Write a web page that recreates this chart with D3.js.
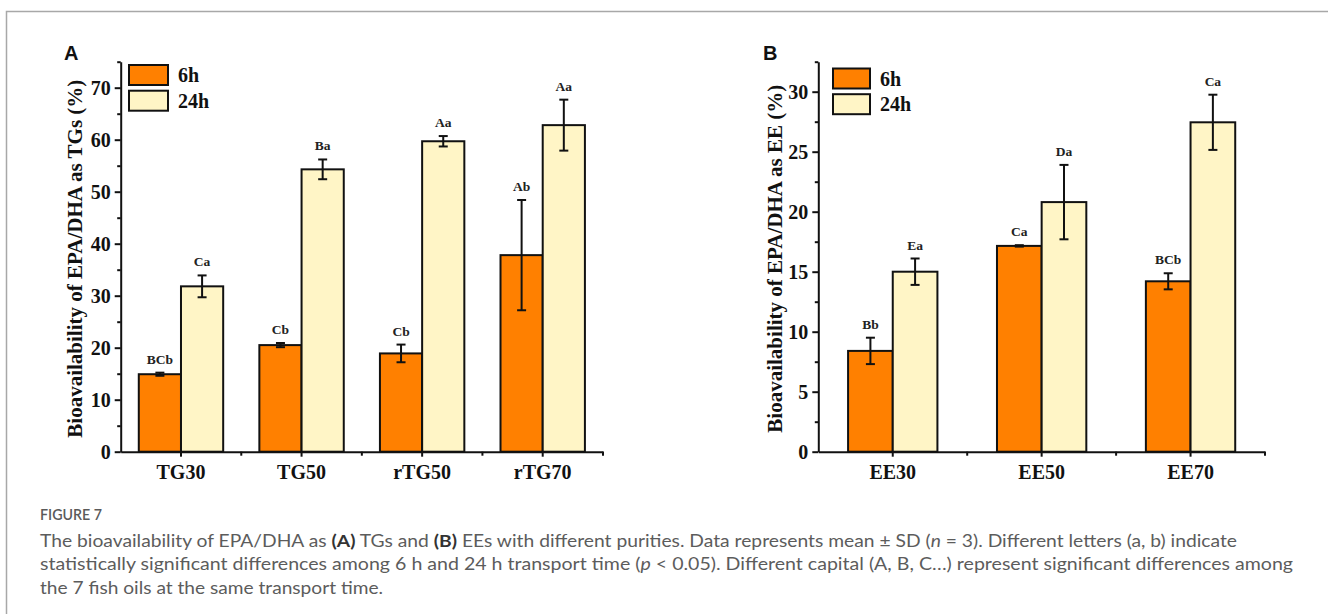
<!DOCTYPE html>
<html><head><meta charset="utf-8">
<script src="https://cdn.jsdelivr.net/npm/d3@7"></script>
<style>html,body{margin:0;padding:0;background:#fff;}svg{display:block;}</style>
</head><body>
<script>
// ---- data ----
const catsA = ["TG30", "TG50", "rTG50", "rTG70"];
const a6h = [14.9, 20.5, 18.9, 37.8];
const a6hErr = [0.3, 0.4, 1.7, 10.6];
const a24h = [31.8, 54.3, 59.7, 62.8];
const a24hErr = [2.1, 1.9, 1.0, 4.9];
const a6hLab = ["BCb", "Cb", "Cb", "Ab"];
const a24hLab = ["Ca", "Ba", "Aa", "Aa"];
const ticksA = [0, 10, 20, 30, 40, 50, 60, 70];

const catsB = ["EE30", "EE50", "EE70"];
const b6h = [8.4, 17.15, 14.2];
const b6hErr = [1.1, 0.06, 0.67];
const b24h = [15.0, 20.8, 27.45];
const b24hErr = [1.1, 3.1, 2.3];
const b6hLab = ["Bb", "Ca", "BCb"];
const b24hLab = ["Ea", "Da", "Ca"];
const ticksB = [0, 5, 10, 15, 20, 25, 30];

const seriesNames = ["6h", "24h"];
const colors = ["#FF8000", "#FFF5C6"];

// ---- drawing ----
const W = 1328, H = 614;
const svg = d3.select("body").append("svg").attr("width", W).attr("height", H);
svg.append("rect").attr("width", W).attr("height", H).attr("fill", "#fff");
svg.append("path").attr("d", "M6.5,614V11.5H1328").attr("fill", "none").attr("stroke", "#a8a8a8").attr("stroke-width", 1.5);

const serif = "'Liberation Serif','Times New Roman',serif";

function panel(cfg) {
  const g = svg.append("g");
  const x = d3.scaleBand().domain(cfg.cats).range([cfg.x0, cfg.x1]).paddingInner(0).paddingOuter(0);
  const y = d3.scaleLinear().domain([0, cfg.ymax]).range([cfg.y0, cfg.y1]);
  const bw = x.bandwidth() * cfg.frac;
  const series = [
    {vals: cfg.v6, err: cfg.e6, lab: cfg.l6, color: colors[0], off: -bw},
    {vals: cfg.v24, err: cfg.e24, lab: cfg.l24, color: colors[1], off: 0}
  ];
  series.forEach(s => {
    cfg.cats.forEach((c, i) => {
      const cx = x(c) + x.bandwidth() / 2;
      g.append("rect").attr("x", cx + s.off).attr("width", bw)
        .attr("y", y(s.vals[i])).attr("height", y(0) - y(s.vals[i]))
        .attr("fill", s.color).attr("stroke", "#111").attr("stroke-width", 2);
    });
  });
  series.forEach(s => {
    cfg.cats.forEach((c, i) => {
      const ex = x(c) + x.bandwidth() / 2 + s.off + bw / 2;
      const hi = y(s.vals[i] + s.err[i]), lo = y(s.vals[i] - s.err[i]);
      g.append("line").attr("x1", ex).attr("x2", ex).attr("y1", hi).attr("y2", lo).attr("stroke", "#111").attr("stroke-width", 2);
      [hi, lo].forEach(yy => g.append("line").attr("x1", ex - 4.5).attr("x2", ex + 4.5).attr("y1", yy).attr("y2", yy).attr("stroke", "#111").attr("stroke-width", 2));
      g.append("text").attr("x", ex).attr("y", hi - 9).attr("text-anchor", "middle")
        .attr("font-family", serif).attr("font-weight", "bold").attr("font-size", 13.5).attr("fill", "#222").text(s.lab[i]);
    });
  });
  // y axis
  const yAx = g.append("g").attr("transform", `translate(${cfg.x0},0)`)
    .call(d3.axisLeft(y).tickValues(cfg.ticks).tickSize(6).tickPadding(4).tickSizeOuter(0));
  yAx.select(".domain").attr("stroke", "#111").attr("stroke-width", 2);
  yAx.selectAll(".tick line").attr("stroke", "#111").attr("stroke-width", 2);
  yAx.selectAll(".tick text").attr("font-family", serif).attr("font-weight", "bold").attr("font-size", 20).attr("fill", "#111");
  const minor = cfg.ticks.map(t => t + cfg.step / 2).filter(t => t <= cfg.ymax + 1e-9);
  const yMin = g.append("g").attr("transform", `translate(${cfg.x0},0)`)
    .call(d3.axisLeft(y).tickValues(minor).tickSize(3.5).tickFormat("").tickSizeOuter(0));
  yMin.select(".domain").remove();
  yMin.selectAll(".tick line").attr("stroke", "#111").attr("stroke-width", 2);
  // x axis
  const xAx = g.append("g").attr("transform", `translate(0,${cfg.y0})`)
    .call(d3.axisBottom(x).tickSize(5).tickPadding(8).tickSizeOuter(0));
  xAx.select(".domain").attr("stroke", "#111").attr("stroke-width", 2);
  xAx.selectAll(".tick line").attr("stroke", "#111").attr("stroke-width", 2);
  xAx.selectAll(".tick text").attr("font-family", serif).attr("font-weight", "bold").attr("font-size", 20).attr("fill", "#111");
  cfg.cats.forEach(c => {
    const bx = x(c) + x.bandwidth();
    g.append("line").attr("x1", bx).attr("x2", bx).attr("y1", cfg.y0).attr("y2", cfg.y0 + 4).attr("stroke", "#111").attr("stroke-width", 2);
  });
  // y title
  g.append("text").attr("transform", `translate(${cfg.titleX},${(cfg.y0 + cfg.y1) / 2 + 2}) rotate(-90)`)
    .attr("text-anchor", "middle").attr("font-family", serif).attr("font-weight", "bold").attr("font-size", 21).attr("fill", "#111")
    .text(cfg.title);
  // panel letter
  g.append("text").attr("x", cfg.letterX).attr("y", 60).attr("font-family", "'Liberation Sans',Arial,sans-serif")
    .attr("font-weight", "bold").attr("font-size", 20).attr("fill", "#111").text(cfg.letter);
  // legend
  seriesNames.forEach((n, i) => {
    const ly = cfg.legY + i * 25.7;
    g.append("rect").attr("x", cfg.legX).attr("y", ly).attr("width", cfg.legW).attr("height", 20)
      .attr("fill", colors[i]).attr("stroke", "#111").attr("stroke-width", 2);
    g.append("text").attr("x", cfg.legX + cfg.legW + 10).attr("y", ly + 17).attr("font-family", serif)
      .attr("font-weight", "bold").attr("font-size", 20).attr("fill", "#111").text(n);
  });
}

panel({cats: catsA, v6: a6h, e6: a6hErr, l6: a6hLab, v24: a24h, e24: a24hErr, l24: a24hLab,
  ticks: ticksA, step: 10, ymax: 75, x0: 120.7, x1: 603, y0: 451.7, y1: 61.7, frac: 0.35,
  title: "Bioavailability of EPA/DHA as TGs (%)", titleX: 82, letter: "A", letterX: 64,
  legX: 129, legY: 65, legW: 39});
panel({cats: catsB, v6: b6h, e6: b6hErr, l6: b6hLab, v24: b24h, e24: b24hErr, l24: b24hLab,
  ticks: ticksB, step: 5, ymax: 32.5, x0: 818.3, x1: 1265, y0: 451.7, y1: 61.7, frac: 0.3,
  title: "Bioavailability of EPA/DHA as EE (%)", titleX: 782, letter: "B", letterX: 763,
  legX: 833, legY: 68.5, legW: 37});

// caption
const capFont = "Lato,'Open Sans',sans-serif";
svg.append("text").attr("x", 40).attr("y", 520).attr("font-family", capFont).attr("font-weight", 600)
  .attr("font-size", 15).attr("fill", "#5a5a5a").attr("textLength", 62).attr("lengthAdjust", "spacingAndGlyphs").text("FIGURE 7");
const capLines = [
  [["The bioavailability of EPA/DHA as ", ""], ["(A)", "b"], [" TGs and ", ""], ["(B)", "b"],
   [" EEs with different purities. Data represents mean \u00b1 SD (", ""], ["n", "i"], [" = 3). Different letters (a, b) indicate", ""]],
  [["statistically significant differences among 6 h and 24 h transport time (", ""], ["p", "i"],
   [" < 0.05). Different capital (A, B, C\u2026) represent significant differences among", ""]],
  [["the 7 fish oils at the same transport time.", ""]]
];
const capLen = [1197, 1253, 343];
capLines.forEach((ln, i) => {
  const t = svg.append("text").attr("x", 40).attr("y", 547 + i * 23.3).attr("font-family", capFont)
    .attr("font-size", 17).attr("fill", "#5c5c5c").attr("textLength", capLen[i]).attr("lengthAdjust", "spacingAndGlyphs");
  ln.forEach(([s, st]) => {
    const ts = t.append("tspan").text(s);
    if (st === "b") ts.attr("font-weight", "bold").attr("fill", "#333");
    if (st === "i") ts.attr("font-style", "italic");
  });
});
</script>
</body></html>
